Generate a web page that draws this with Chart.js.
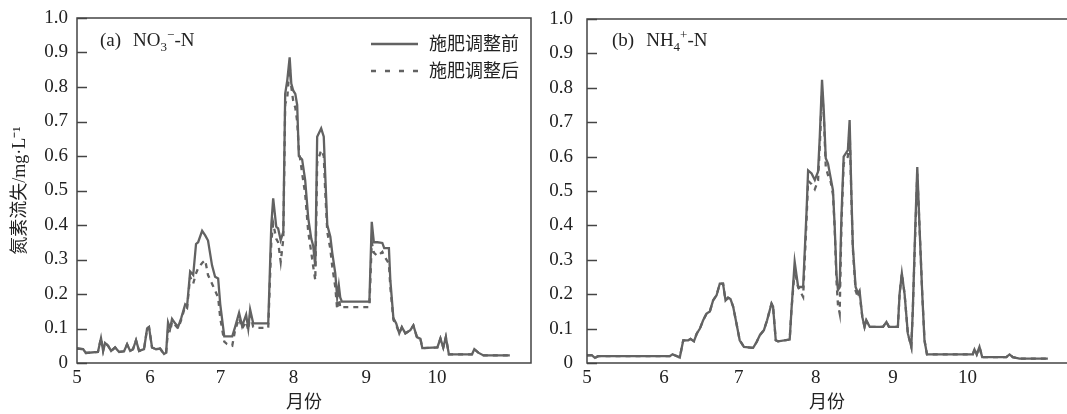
<!DOCTYPE html>
<html>
<head>
<meta charset="utf-8">
<script src="https://cdn.jsdelivr.net/npm/chart.js@4/dist/chart.umd.min.js"></script>
<style>
  body { margin: 0; background: #fff; }
  #wrap { position: relative; width: 1067px; height: 414px; overflow: hidden; }
  canvas { position: absolute; top: 0; }
  .lab { position: absolute; font-family: "Liberation Serif", serif; font-size: 19px; line-height: 20px; color: #222; white-space: nowrap; }
  .lab b { font-weight: normal; margin-left: 12px; }
  .lab sub, .lab sup { font-size: 13px; line-height: 0; }
  .leg { position: absolute; font-family: "Noto Sans CJK SC", sans-serif; font-size: 18px; line-height: 20px; color: #222; white-space: nowrap; }
  svg { position: absolute; overflow: visible; }
</style>
</head>
<body>
<div id="wrap">
  <canvas id="chartA" width="545" height="414" style="left:0"></canvas>
  <canvas id="chartB" width="522" height="414" style="left:545px"></canvas>

  <div class="lab" style="left:100px; top:30px">(a)<b>NO<sub>3</sub><sup>&minus;</sup>-N</b></div>
  <div class="lab" style="left:612px; top:30px">(b)<b>NH<sub>4</sub><sup>+</sup>-N</b></div>

  <svg style="left:371px; top:43px" width="47" height="2"><line x1="0" y1="1" x2="47" y2="1" stroke="#626262" stroke-width="2.4"/></svg>
  <div class="leg" style="left:429px; top:32px">施肥调整前</div>
  <svg style="left:371px; top:70px" width="47" height="2"><line x1="0" y1="1" x2="47" y2="1" stroke="#626262" stroke-width="2.4" stroke-dasharray="5 9"/></svg>
  <div class="leg" style="left:429px; top:59px">施肥调整后</div>
</div>

<script>
// x = days since 1 May
const monthDays = [0, 31, 61, 92, 123, 153];
const monthLabels = ['5', '6', '7', '8', '9', '10'];
const seriesNames = ['施肥调整前', '施肥调整后'];

// (a) NO3- - N
const no3Days = [
  0, 2.6, 3.8, 8.9, 10.2, 11.1, 11.9, 13.2, 14.5, 16.2, 17.9, 20,
  21.3, 22.6, 23.8, 25.1, 26.4, 28.5, 29.8, 30.6, 31.9, 33.6, 35.3, 37,
  37.9, 38.7, 39.6, 40.4, 41.7, 43, 44.3, 46, 46.8, 48.1, 49.4, 50.6,
  51.5, 53.2, 54.5, 55.7, 57.4, 58.7, 60, 60.9, 62.6, 63.8, 66, 67.2,
  68.9, 70.2, 71.9, 72.8, 73.6, 74.9, 76.2, 81.3, 82.6, 83.4, 84.7, 85.5,
  86.6, 87.7, 88.5, 89.4, 90.4, 91.1, 91.9, 92.8, 93.6, 94.3, 95.7, 97,
  98.3, 99.6, 100.4, 101.3, 102.1, 103.8, 104.9, 105.5, 106.4, 107.7, 108.5, 109.8,
  110.6, 111.3, 111.9, 112.6, 124.3, 125.3, 126.2, 127.7, 129.8, 130.6, 132.6, 133.2,
  134.5, 135.7, 137, 138.1, 139.6, 141.7, 143, 144.5, 146, 146.8, 153.2, 154.5,
  155.7, 156.8, 158.1, 167.9, 168.9, 170.6, 172.8, 184
];
const no3Before = [
  0.042, 0.040, 0.029, 0.032, 0.072, 0.035, 0.058, 0.050, 0.035, 0.045, 0.032, 0.034,
  0.054, 0.035, 0.040, 0.066, 0.035, 0.040, 0.100, 0.104, 0.045, 0.040, 0.042, 0.026,
  0.030, 0.118, 0.100, 0.128, 0.115, 0.105, 0.130, 0.170, 0.165, 0.265, 0.255, 0.345,
  0.350, 0.383, 0.370, 0.355, 0.283, 0.250, 0.245, 0.170, 0.077, 0.077, 0.077, 0.104,
  0.145, 0.107, 0.140, 0.100, 0.155, 0.115, 0.115, 0.115, 0.400, 0.477, 0.395, 0.390,
  0.356, 0.380, 0.780, 0.820, 0.886, 0.810, 0.790, 0.780, 0.748, 0.600, 0.590, 0.530,
  0.420, 0.360, 0.340, 0.280, 0.656, 0.680, 0.656, 0.550, 0.400, 0.366, 0.320, 0.260,
  0.190, 0.225, 0.190, 0.178, 0.178, 0.409, 0.350, 0.350, 0.348, 0.333, 0.333, 0.240,
  0.130, 0.115, 0.086, 0.104, 0.086, 0.095, 0.109, 0.075, 0.070, 0.043, 0.045, 0.071,
  0.045, 0.075, 0.025, 0.025, 0.040, 0.030, 0.022, 0.022
];
const no3After = [
  0.042, 0.040, 0.029, 0.032, 0.072, 0.035, 0.058, 0.050, 0.035, 0.045, 0.032, 0.034,
  0.054, 0.035, 0.040, 0.066, 0.035, 0.040, 0.100, 0.104, 0.045, 0.040, 0.042, 0.026,
  0.030, 0.095, 0.090, 0.120, 0.110, 0.100, 0.125, 0.165, 0.160, 0.250, 0.230, 0.260,
  0.275, 0.290, 0.298, 0.255, 0.230, 0.210, 0.190, 0.130, 0.062, 0.055, 0.050, 0.095,
  0.130, 0.100, 0.120, 0.095, 0.140, 0.105, 0.102, 0.102, 0.350, 0.405, 0.360, 0.350,
  0.293, 0.360, 0.750, 0.770, 0.860, 0.800, 0.760, 0.740, 0.700, 0.620, 0.550, 0.490,
  0.380, 0.320, 0.280, 0.240, 0.580, 0.617, 0.600, 0.500, 0.380, 0.330, 0.280, 0.220,
  0.155, 0.200, 0.160, 0.162, 0.162, 0.350, 0.320, 0.310, 0.322, 0.310, 0.288, 0.220,
  0.125, 0.110, 0.086, 0.104, 0.086, 0.095, 0.109, 0.075, 0.070, 0.043, 0.045, 0.071,
  0.045, 0.075, 0.025, 0.025, 0.040, 0.030, 0.022, 0.022
];

// (b) NH4+ - N
const nh4Days = [
  0, 1.9, 3.2, 4.5, 33.3, 34.4, 36.7, 37.3, 38.7, 40.7, 41.6, 43,
  44.1, 45.4, 46.7, 48.1, 49.4, 50.7, 52.1, 53.4, 54.7, 55.7, 56.7, 57.7,
  58.8, 60.1, 61.4, 63.1, 66.8, 68.2, 69.5, 71.1, 72.4, 74.2, 74.8, 75.9,
  76.8, 81.5, 82.2, 83.5, 84.9, 86.9, 88.3, 88.9, 90.3, 91.6, 92.9, 93.6,
  94.5, 95.2, 96, 96.9, 97.9, 98.9, 99.6, 100.3, 100.9, 101.6, 102.3, 103.2,
  104, 104.9, 105.6, 106.3, 106.9, 108, 109, 109.6, 110.7, 111.6, 112.3, 113.7,
  119, 120.4, 121.4, 125, 125.7, 126.6, 127.7, 129, 130.4, 131, 132, 132.8,
  133.7, 134.8, 135.7, 136.7, 155.1, 155.8, 156.7, 157.8, 158.9, 168.6, 169.9, 171.2,
  173.9, 185.3
];
const nh4Before = [
  0.022, 0.023, 0.015, 0.020, 0.020, 0.025, 0.018, 0.016, 0.066, 0.066, 0.070, 0.063,
  0.085, 0.100, 0.124, 0.144, 0.150, 0.182, 0.197, 0.231, 0.231, 0.182, 0.190, 0.186,
  0.163, 0.115, 0.066, 0.047, 0.044, 0.061, 0.081, 0.095, 0.124, 0.173, 0.165, 0.066,
  0.063, 0.068, 0.153, 0.294, 0.221, 0.221, 0.444, 0.560, 0.551, 0.532, 0.556, 0.658,
  0.823, 0.735, 0.595, 0.580, 0.541, 0.502, 0.396, 0.260, 0.212, 0.220, 0.425, 0.600,
  0.609, 0.619, 0.706, 0.493, 0.338, 0.221, 0.202, 0.210, 0.134, 0.105, 0.124, 0.105,
  0.105, 0.119, 0.105, 0.105, 0.202, 0.260, 0.200, 0.086, 0.047, 0.153, 0.396, 0.570,
  0.396, 0.200, 0.066, 0.025, 0.025, 0.039, 0.025, 0.047, 0.017, 0.017, 0.025, 0.017,
  0.013, 0.013
];
const nh4After = [
  0.022, 0.023, 0.015, 0.020, 0.020, 0.025, 0.018, 0.016, 0.066, 0.066, 0.070, 0.063,
  0.085, 0.100, 0.124, 0.144, 0.150, 0.182, 0.197, 0.231, 0.231, 0.182, 0.190, 0.186,
  0.163, 0.115, 0.066, 0.047, 0.044, 0.061, 0.081, 0.095, 0.124, 0.173, 0.165, 0.066,
  0.063, 0.068, 0.153, 0.270, 0.220, 0.192, 0.420, 0.530, 0.520, 0.505, 0.530, 0.630,
  0.790, 0.720, 0.570, 0.546, 0.530, 0.490, 0.390, 0.240, 0.170, 0.144, 0.400, 0.580,
  0.590, 0.600, 0.680, 0.480, 0.330, 0.210, 0.190, 0.200, 0.134, 0.105, 0.124, 0.105,
  0.105, 0.119, 0.105, 0.105, 0.202, 0.260, 0.200, 0.086, 0.047, 0.153, 0.380, 0.550,
  0.396, 0.200, 0.066, 0.025, 0.025, 0.039, 0.025, 0.047, 0.017, 0.017, 0.025, 0.017,
  0.013, 0.013
];

const lineColor = '#626262';
const frameColor = '#444444';
const tickFont = { family: '"Liberation Serif", serif', size: 19 };
const titleFont = { family: '"Liberation Serif", "Noto Sans CJK SC", serif', size: 18 };

// box around the plot (no right side when it sits on the page edge) and short inward y ticks
const framePlugin = {
  id: 'frame',
  afterDraw(chart, args, opts) {
    const { ctx, chartArea: a, scales: { y } } = chart;
    ctx.save();
    ctx.strokeStyle = frameColor;
    ctx.lineWidth = 1.5;
    ctx.beginPath();
    if (opts.right) {
      ctx.rect(a.left, a.top, a.right - a.left, a.bottom - a.top);
    } else {
      ctx.moveTo(a.right + 2, a.top);
      ctx.lineTo(a.left, a.top);
      ctx.lineTo(a.left, a.bottom);
      ctx.lineTo(a.right + 2, a.bottom);
    }
    ctx.stroke();
    y.ticks.forEach(t => {
      const py = Math.round(y.getPixelForValue(t.value)) + 0.5;
      ctx.beginPath();
      ctx.moveTo(a.left, py);
      ctx.lineTo(a.left + 10, py);
      ctx.stroke();
    });
    ctx.restore();
  }
};

function toPoints(days, vals) {
  return days.map((d, i) => ({ x: d, y: vals[i] }));
}

function makePanel(id, days, before, after, cfg) {
  return new Chart(document.getElementById(id), {
    type: 'line',
    data: {
      datasets: [
        { label: seriesNames[0], data: toPoints(days, before), borderColor: lineColor, borderWidth: 2.3, pointRadius: 0, tension: 0 },
        { label: seriesNames[1], data: toPoints(days, after), borderColor: lineColor, borderWidth: 2.3, borderDash: [5, 5], pointRadius: 0, tension: 0 }
      ]
    },
    options: {
      responsive: false,
      animation: false,
      devicePixelRatio: 1,
      layout: { padding: { top: cfg.top, right: cfg.right, left: 0, bottom: 0 } },
      plugins: { legend: { display: false }, tooltip: { enabled: false }, frame: { right: cfg.frameRight } },
      scales: {
        x: {
          type: 'linear',
          min: 0,
          max: 193,
          grid: { display: false, drawTicks: false },
          border: { display: false },
          afterBuildTicks: s => { s.ticks = monthDays.map(v => ({ value: v })); },
          afterFit: s => { s.height = 51; },
          ticks: {
            padding: 4,
            color: '#222',
            font: tickFont,
            maxRotation: 0,
            callback: v => monthLabels[monthDays.indexOf(v)]
          },
          title: { display: true, text: '月份', color: '#222', font: titleFont, padding: { top: 0, bottom: 0 } }
        },
        y: {
          min: 0,
          max: 1,
          grid: { display: false, drawTicks: false },
          border: { display: false },
          afterFit: s => { s.width = cfg.axisWidth; s.paddingTop = 0; s.paddingBottom = 0; },
          ticks: {
            stepSize: 0.1,
            padding: cfg.tickPad,
            color: '#222',
            font: tickFont,
            callback: v => (v === 0 ? '0' : v.toFixed(1))
          },
          title: { display: cfg.yTitle !== '', text: cfg.yTitle, color: '#222', font: titleFont, padding: { top: 9, bottom: 0 } }
        }
      }
    },
    plugins: [framePlugin]
  });
}

makePanel('chartA', no3Days, no3Before, no3After, { top: 18, right: 14, axisWidth: 77, tickPad: 9, yTitle: '氮素流失/mg·L⁻¹', frameRight: true });
makePanel('chartB', nh4Days, nh4Before, nh4After, { top: 19, right: 0, axisWidth: 42, tickPad: 14, yTitle: '', frameRight: false });
</script>
</body>
</html>
